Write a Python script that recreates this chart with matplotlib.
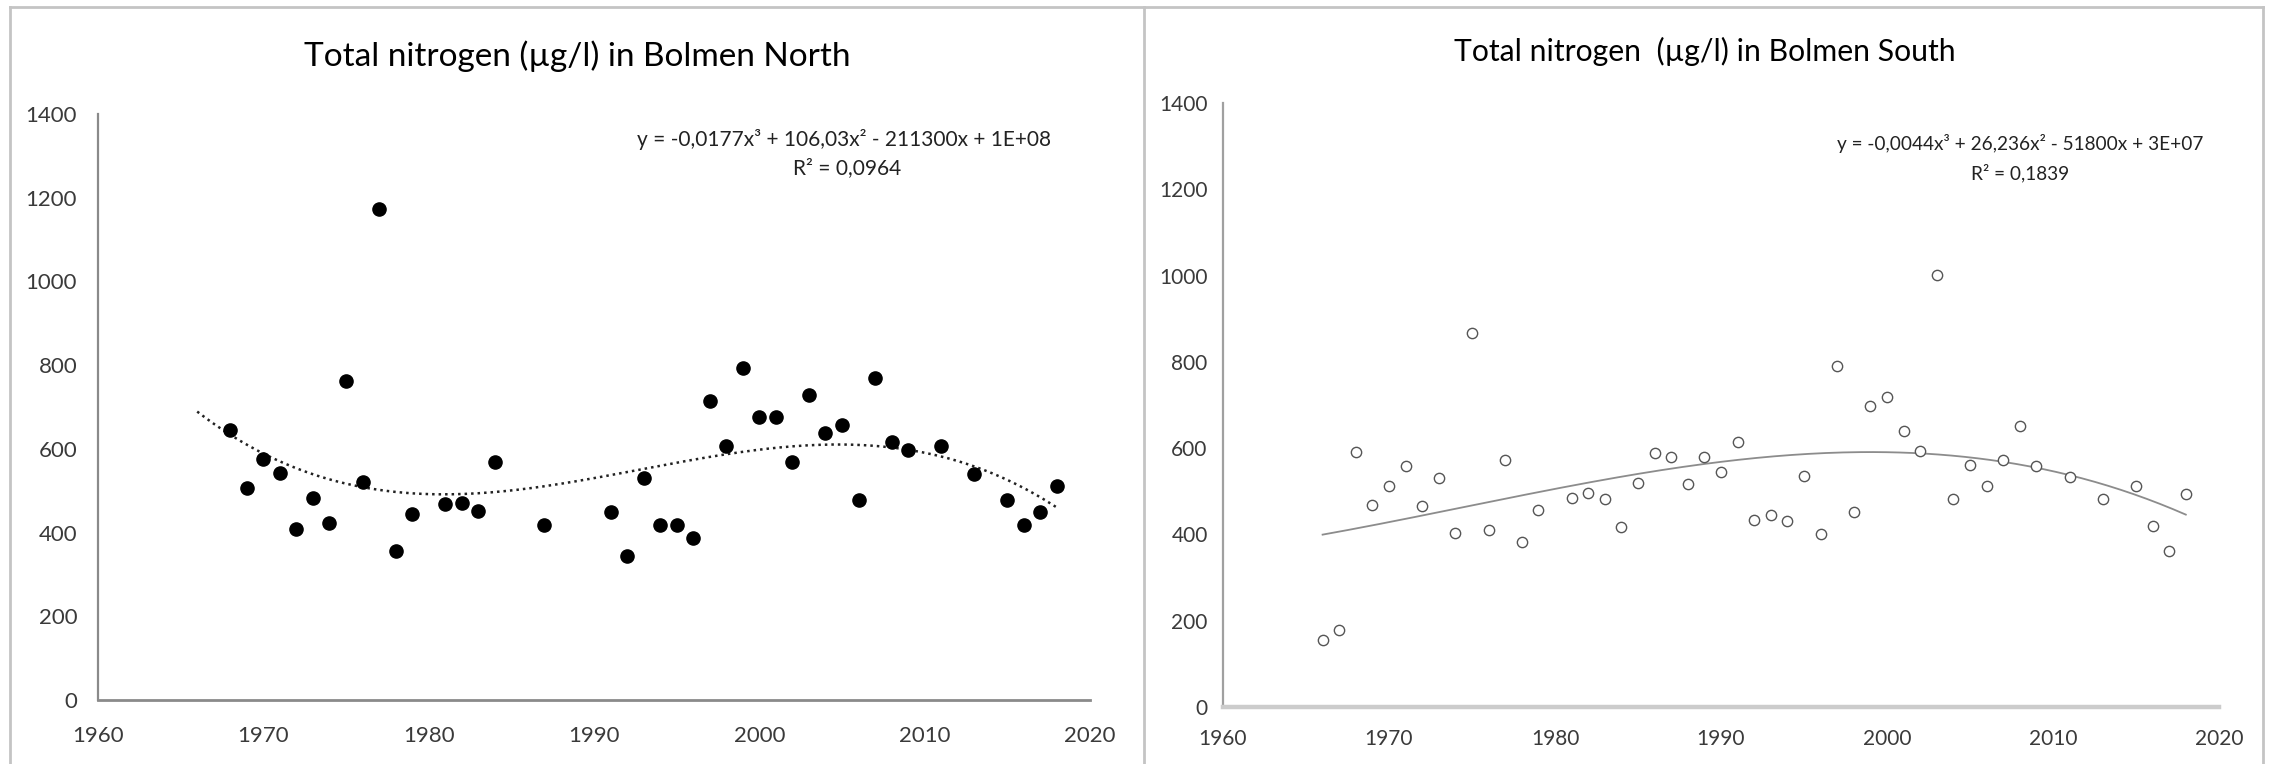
import numpy as np
import matplotlib
matplotlib.use("Agg")
import matplotlib.pyplot as plt
from matplotlib.lines import Line2D

plt.rcParams['font.family'] = ['Lato', 'DejaVu Sans']

# Bolmen North, total nitrogen (ug/l)
north_years = [1968, 1969, 1970, 1971, 1972, 1973, 1974, 1975, 1976, 1977, 1978, 1979,
               1981, 1982, 1983, 1984, 1987, 1991, 1992, 1993, 1994, 1995, 1996, 1997,
               1998, 1999, 2000, 2001, 2002, 2003, 2004, 2005, 2006, 2007, 2008, 2009,
               2011, 2013, 2015, 2016, 2017, 2018]
north_values = [644, 506, 576, 542, 409, 482, 423, 762, 522, 1174, 355, 444,
                468, 471, 452, 568, 417, 450, 345, 530, 417, 417, 388, 714,
                607, 792, 676, 676, 568, 729, 638, 657, 479, 770, 617, 598,
                608, 541, 479, 417, 450, 512]

# Bolmen South, total nitrogen (ug/l)
south_years = [1966, 1967, 1968, 1969, 1970, 1971, 1972, 1973, 1974, 1975, 1976, 1977,
               1978, 1979, 1981, 1982, 1983, 1984, 1985, 1986, 1987, 1988, 1989, 1990,
               1991, 1992, 1993, 1994, 1995, 1996, 1997, 1998, 1999, 2000, 2001, 2002,
               2003, 2004, 2005, 2006, 2007, 2008, 2009, 2011, 2013, 2015, 2016, 2017,
               2018]
south_values = [156, 179, 591, 468, 513, 559, 466, 531, 403, 868, 411, 572,
                382, 456, 484, 497, 481, 418, 520, 588, 580, 517, 580, 544,
                614, 434, 444, 432, 536, 401, 791, 453, 697, 718, 640, 593,
                1002, 481, 562, 512, 572, 651, 559, 533, 482, 512, 420, 362,
                494]

trend_range = (1966, 2018)

north_title = "Total nitrogen (µg/l) in Bolmen North"
south_title = "Total nitrogen  (µg/l) in Bolmen South"
north_eq = "y = -0,0177x³ + 106,03x² - 211300x + 1E+08"
north_r2 = "R² = 0,0964"
south_eq = "y = -0,0044x³ + 26,236x² - 51800x + 3E+07"
south_r2 = "R² = 0,1839"

W, H = 2272, 764
fig = plt.figure(figsize=(W / 100, H / 100), dpi=100)


def px_axes(x0, x1, ytop, ybot):
    return fig.add_axes([x0 / W, (H - ybot) / H, (x1 - x0) / W, (ybot - ytop) / H])


def cubic_trend(years, values):
    yrs = np.array(years, dtype=float)
    coef = np.polyfit(yrs - 1990, np.array(values, dtype=float), 3)
    xs = np.linspace(trend_range[0], trend_range[1], 200)
    return xs, np.polyval(coef, xs - 1990)


def style_axes(ax, ycol, xcol, xlw, ypad, xpad, fs):
    ax.set_xlim(1960, 2020)
    ax.set_ylim(0, 1400)
    ax.set_xticks(range(1960, 2021, 10))
    ax.set_yticks(range(0, 1401, 200))
    for s in ['top', 'right']:
        ax.spines[s].set_visible(False)
    ax.spines['left'].set_color(ycol)
    ax.spines['left'].set_linewidth(1.6)
    ax.spines['bottom'].set_color(xcol)
    ax.spines['bottom'].set_linewidth(xlw)
    ax.tick_params(axis='y', length=0, pad=ypad, labelsize=fs, labelcolor='#3a3a3a')
    ax.tick_params(axis='x', length=0, pad=xpad, labelsize=fs, labelcolor='#3a3a3a')
    ax.patch.set_alpha(0)


# left panel
ax1 = px_axes(98, 1090, 114, 700)
style_axes(ax1, '#8a8a8a', '#8a8a8a', 2.0, 15, 19, 16)
tx, ty = cubic_trend(north_years, north_values)
ax1.plot(tx, ty, color='#222222', lw=1.8, ls=(0, (1, 1.6)), zorder=2)
ax1.scatter(north_years, north_values, s=90, color='black', zorder=3)
ax1.text(2005.1, 1340, north_eq, ha='center', va='center', fontsize=15, color='#222222')
ax1.text(2005.3, 1271, north_r2, ha='center', va='center', fontsize=15, color='#222222')

# right panel
ax2 = px_axes(1223, 2219, 103, 707)
style_axes(ax2, '#a0a0a0', '#cccccc', 3.2, 11, 16, 15)
tx, ty = cubic_trend(south_years, south_values)
ax2.plot(tx, ty, color='#8c8c8c', lw=1.3, zorder=2)
ax2.scatter(south_years, south_values, s=55, facecolors='white', edgecolors='#555555',
            linewidths=1.0, zorder=3)
ax2.text(2008.0, 1307, south_eq, ha='center', va='center', fontsize=13.7, color='#222222')
ax2.text(2008.0, 1238, south_r2, ha='center', va='center', fontsize=13.7, color='#222222')

# titles
fig.text(577 / W, (H - 56) / H, north_title, ha='center', va='center', fontsize=24)
fig.text(1705 / W, (H - 51) / H, south_title, ha='center', va='center', fontsize=21.7)

# panel borders
border = dict(color='#c4c4c4', lw=2.0, transform=fig.transFigure)
fig.add_artist(Line2D([10 / W, 2263 / W], [(H - 7) / H, (H - 7) / H], **border))
for xp in [10, 1144, 2263]:
    fig.add_artist(Line2D([xp / W, xp / W], [0, (H - 7) / H], **border))

fig.savefig("out.png", dpi=100)
